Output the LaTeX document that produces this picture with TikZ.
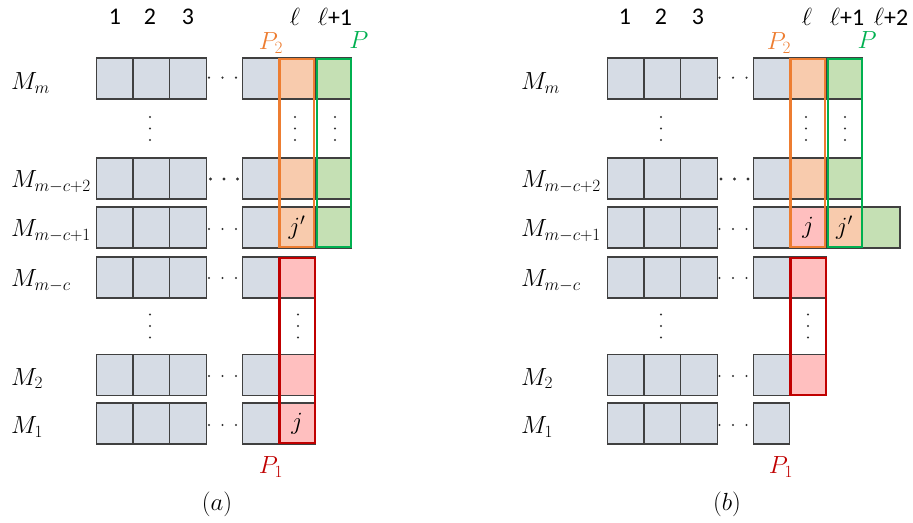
\documentclass[tikz,border=0pt]{standalone}
\usepackage{fontspec}
\newfontfamily\calib{Carlito}
\definecolor{cellfill}{HTML}{D6DCE5}
\definecolor{cellline}{HTML}{404040}
\definecolor{orfill}{HTML}{F8CBAD}
\definecolor{orline}{HTML}{ED7D31}
\definecolor{grfill}{HTML}{C5E0B4}
\definecolor{grline}{HTML}{00B050}
\definecolor{rdfill}{HTML}{FFBFBF}
\definecolor{rdline}{HTML}{C00000}
\newcommand\hdotrow[3]{\fill[black!80] (#1-13.5,#2) circle (#3) (#1,#2) circle (#3) (#1+13.5,#2) circle (#3);}
\newcommand\vdotcol[2]{\fill[black!80] (#1,#2-11.5) circle (1.2bp) (#1,#2) circle (1.2bp) (#1,#2+11.5) circle (1.2bp);}
\begin{document}
\begin{tikzpicture}[x=1bp,y=-1bp,
  cell/.style={draw=cellline,fill=cellfill,line width=1.3bp,minimum width=36.5bp,minimum height=41bp,inner sep=0pt,outer sep=0pt,font=\fontsize{23}{27}\selectfont},
  ocell/.style={cell,fill=orfill},
  gcell/.style={cell,fill=grfill},
  rcell/.style={cell,fill=rdfill},
  lab/.style={font=\fontsize{23}{27}\selectfont,inner sep=0pt},
  hd/.style={font=\calib\fontsize{24}{28}\selectfont,inner sep=0pt},
  frame/.style={line width=2.5bp}]
\useasboundingbox (0,0) rectangle (913,523);

% ---------- panel (a) ----------
\foreach \r/\y in {1/78.5,2/178.5,3/227.5,4/277.5,5/375,6/423.5}{
  \foreach \c/\x in {1/114.5,2/151.5,3/188,4/260.5}{
    \node[cell] (a\r\c) at (\x,\y) {};
  }
}
\hdotrow{222.5}{77.7}{1.2bp}
\hdotrow{224}{179}{1.6bp}
\hdotrow{222.5}{229}{1.2bp}
\hdotrow{222.5}{278}{1.2bp}
\hdotrow{222.5}{376}{1.2bp}
\hdotrow{222.5}{425}{1.2bp}
\node[ocell] (a15) at (297,78.5) {};
\node[ocell] (a25) at (297,178.5) {};
\node[ocell] (a35) at (297,227.5) {$j'$};
\node[rcell] (a45) at (297,277.5) {};
\node[rcell] (a55) at (297,375) {};
\node[rcell] (a65) at (297,423.5) {$j$};
\node[gcell] (a16) at (333.5,78.5) {};
\node[gcell] (a26) at (333.5,178.5) {};
\node[gcell] (a36) at (333.5,227.5) {};
\vdotcol{150}{128.5}
\vdotcol{295}{128.5}
\vdotcol{335}{128.5}
\vdotcol{150}{326}
\vdotcol{298}{326}
\draw[frame,orline] (279.3,59.2) rectangle (313.8,247);
\draw[frame,grline] (317.2,59.2) rectangle (351,247);
\draw[frame,rdline] (279.3,258.2) rectangle (315,443);
% headers
\node[hd] (ah1) at (115,16.5) {1};
\node[hd] (ah2) at (150,16.5) {2};
\node[hd] (ah3) at (188,16.5) {3};
\node[hd] (ahl) at (295,16.5) {$\ell$};
\node[hd] (ahl1) at (335,16.5) {$\ell$+1};
\node[lab,text=orline] (aP2) at (271,43) {$P_2$};
\node[lab,text=grline] (aP) at (359,40) {$P$};
\node[lab,text=rdline] (aP1) at (271,467) {$P_1$};
\node[lab] (acap) at (217,504) {$(a)$};
% row labels
\foreach \n/\t/\y in {m/m/90,a/{m-c+2}/188,b/{m-c+1}/237,c/{m-c}/287,d/2/385,e/1/433.5}{
  \node[lab,anchor=base west] (al\n) at (11,\y) {$M_{\t}$};
}

% ---------- panel (b) ----------
\begin{scope}[xshift=511bp]
\foreach \r/\y in {1/78.5,2/178.5,3/227.5,4/277.5,5/375,6/423.5}{
  \foreach \c/\x in {1/114.5,2/151.5,3/188,4/260.5}{
    \node[cell] (b\r\c) at (\x,\y) {};
  }
}
\hdotrow{222}{77.7}{1.2bp}
\hdotrow{223.5}{179}{1.6bp}
\hdotrow{222}{229}{1.2bp}
\hdotrow{222}{278}{1.2bp}
\hdotrow{222}{376}{1.2bp}
\hdotrow{222}{425}{1.2bp}
\node[ocell] (b15) at (297,78.5) {};
\node[ocell] (b25) at (297,178.5) {};
\node[rcell] (b35) at (297,227.5) {$j$};
\node[rcell] (b45) at (297,277.5) {};
\node[rcell] (b55) at (297,375) {};
\node[gcell] (b16) at (333.5,78.5) {};
\node[gcell] (b26) at (333.5,178.5) {};
\node[ocell] (b36) at (333.5,227.5) {$j'$};
\node[gcell,minimum width=38bp] (b37) at (370,227.5) {};
\vdotcol{150}{128.5}
\vdotcol{295}{128.5}
\vdotcol{334}{128.5}
\vdotcol{150}{326}
\vdotcol{297}{326}
\draw[frame,orline] (279.3,59.2) rectangle (313.8,247);
\draw[frame,grline] (317.2,59.2) rectangle (351,247);
\draw[frame,rdline] (279.3,258.2) rectangle (315,395);
\node[hd] (bh1) at (114,16.5) {1};
\node[hd] (bh2) at (150,16.5) {2};
\node[hd] (bh3) at (187,16.5) {3};
\node[hd] (bhl) at (296,16.5) {$\ell$};
\node[hd] (bhl1) at (336,16.5) {$\ell$+1};
\node[hd] (bhl2) at (380,16.5) {$\ell$+2};
\node[lab,text=orline] (bP2) at (268,43) {$P_2$};
\node[lab,text=grline] (bP) at (356,40) {$P$};
\node[lab,text=rdline] (bP1) at (270,467) {$P_1$};
\node[lab] (bcap) at (216,504) {$(b)$};
\foreach \n/\t/\y in {m/m/90,a/{m-c+2}/188,b/{m-c+1}/237,c/{m-c}/287,d/2/385,e/1/433.5}{
  \node[lab,anchor=base west] (bl\n) at (10,\y) {$M_{\t}$};
}
\end{scope}
\end{tikzpicture}
\end{document}
